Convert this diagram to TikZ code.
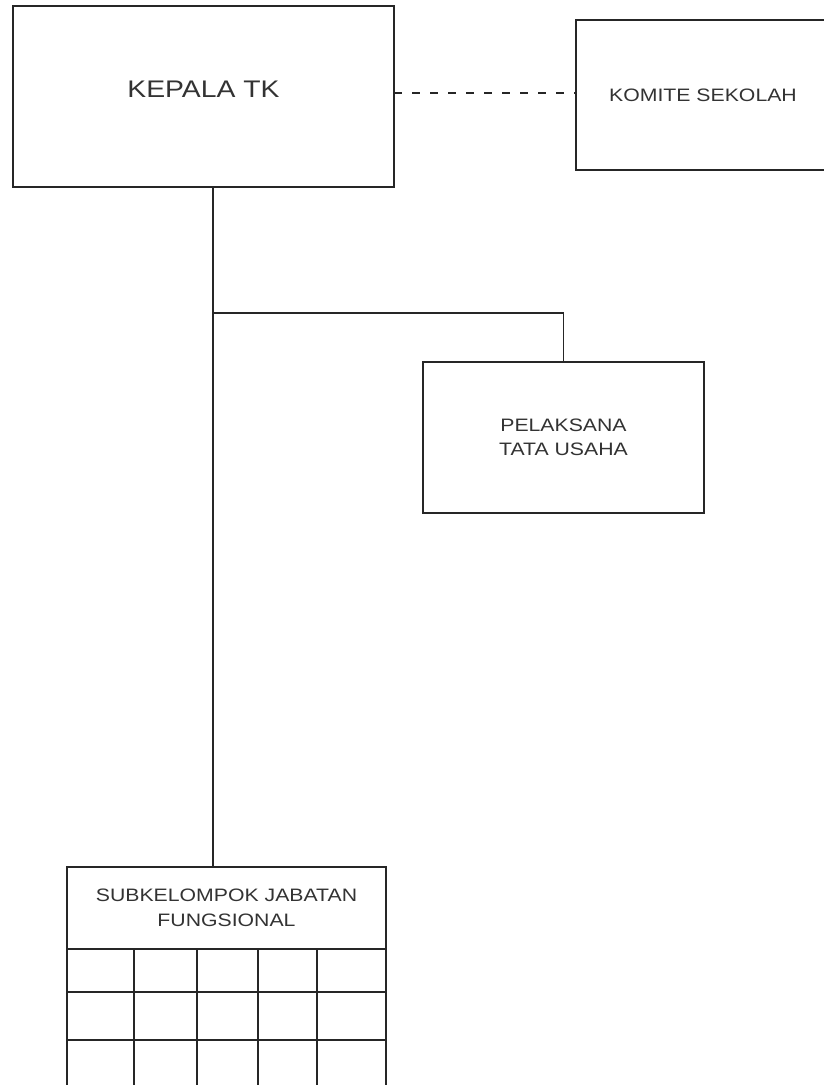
\documentclass[tikz,border=0pt]{standalone}
\usepackage{fontspec}
\newfontfamily\orgfont[FakeStretch=1.18]{Liberation Sans}
\begin{document}
\begin{tikzpicture}[x=0.75pt,y=-0.75pt,
  ln/.style={line width=1.1pt,draw=black!85},
  box/.style={ln,rectangle,inner sep=0pt,outer sep=0pt,align=center,
    text=black!80,font=\orgfont\fontsize{13.5pt}{18pt}\selectfont},
  dashline/.style={ln,dash pattern=on 6pt off 7.5pt}]
\clip (0,0) rectangle (824,1085);
\fill[white] (0,0) rectangle (824,1085);
% boxes
\node[box,minimum width={381*0.75pt},minimum height={181*0.75pt},
  label={[text=black!80,font=\orgfont\fontsize{18pt}{22pt}\selectfont,yshift=5.6pt]center:KEPALA TK}]
  (kepala) at (203.5,96.5) {};
\node[box,minimum width={254*0.75pt},minimum height={150*0.75pt}]
  (komite) at (703,95) {KOMITE SEKOLAH};
\node[box,minimum width={281*0.75pt},minimum height={151*0.75pt}]
  (tu) at (563.5,437.5) {PELAKSANA\\TATA USAHA};
\node[box,minimum width={319*0.75pt},minimum height={82*0.75pt},
  font=\orgfont\fontsize{13.5pt}{18.75pt}\selectfont]
  (sub) at (226.5,908) {SUBKELOMPOK JABATAN\\FUNGSIONAL};
% helper coordinates
\coordinate (j) at (213,313);
\coordinate (d) at (0,93);
% connectors
\draw[dashline] (kepala.east |- d) -- (komite.west |- d);
\draw[ln] (kepala.south -| j) -- (sub.north -| j);
\draw[ln] (j) -| (tu.north);
% grid below the header
\draw[ln] (sub.south west) -- ++(0,145);
\draw[ln] (sub.south east) -- ++(0,145);
\foreach \cx in {134,197,258,317}
  \draw[ln] (\cx,949) -- (\cx,1094);
\foreach \ry in {992,1040}
  \draw[ln] (67,\ry) -- (386,\ry);
\end{tikzpicture}
\end{document}
